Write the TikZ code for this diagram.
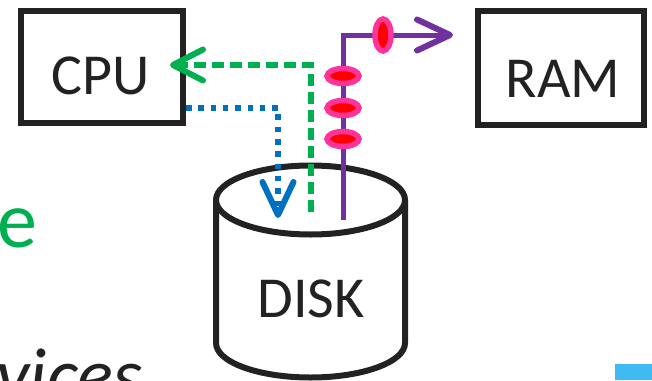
\documentclass[tikz,border=0pt]{standalone}
\usepackage{fontspec}
\setmainfont{Carlito}
\usetikzlibrary{arrows.meta,shapes.geometric}
\definecolor{inkc}{HTML}{222222}
\definecolor{pgreen}{HTML}{00B050}
\definecolor{pblue}{HTML}{0070C0}
\definecolor{ppurple}{HTML}{7030A0}
\definecolor{ppink}{HTML}{FF3399}
\definecolor{pred}{HTML}{FF0000}
\definecolor{plight}{HTML}{3DBBF2}
\tikzset{
  boxnode/.style={draw=inkc,line width=6pt,rectangle,inner sep=0pt},
  lbl/.style={text=inkc,font=\fontsize{58}{60}\selectfont,inner sep=0pt},
  packet/.style={ellipse,draw=ppink,fill=pred,line width=5.5pt,inner sep=0pt},
  hpacket/.style={packet,minimum width=32pt,minimum height=15pt},
  vpacket/.style={packet,minimum width=16pt,minimum height=32pt},
  barb/.style={-{Straight Barb[length=#1,width=31pt,line width=6pt 0,round]}},
}
\begin{document}
\begin{tikzpicture}[x=1pt,y=1pt]
\useasboundingbox (0,0) rectangle (652,-380);
\clip (0,0) rectangle (652,-380);
% slide fragments
\node[anchor=base east,inner sep=0pt,text=pgreen,font=\fontsize{80}{80}\selectfont] (etxt) at (38,-247) {e};
\node[anchor=base east,inner sep=0pt,text=inkc,font=\itshape\fontsize{75}{75}\selectfont] (vtxt) at (143,-400) {vices};
\fill[plight] (615,-364) rectangle (652,-380);
% boxes
\node[boxnode,minimum width=162pt,minimum height=112pt] (cpu) at (102,-67) {};
\node[lbl] (cputxt) at (101,-75.5) {CPU};
\node[boxnode,minimum width=166pt,minimum height=114pt] (ram) at (561,-68) {};
\node[lbl] (ramtxt) at (563,-78.5) {RAM};
% disk
\draw[inkc,line width=6pt] (216,-200) -- (216,-343) arc[start angle=180,end angle=360,x radius=94.5pt,y radius=34.5pt] -- (405,-200);
\draw[inkc,line width=6pt,fill=white] (310.5,-200) ellipse[x radius=94.5pt,y radius=34.5pt];
\node[lbl] (disk) at (311,-298.5) {DISK};
% connector end points
\coordinate (pstart) at (343,-220);
\coordinate (pcorner) at (343,-35);
\coordinate (pend) at (453,-35);
\coordinate (gstart) at (311,-212);
\coordinate (gcorner) at (311,-65);
\coordinate (gend) at (170,-65);
\coordinate (bstart) at (cpu.east |- 0,-108);
\coordinate (bcorner) at (278,-108);
\coordinate (bend) at (278,-218);
% connectors
\draw[ppurple,line width=5pt,barb=33pt] (pstart) -- (pcorner) -- (pend);
\draw[pgreen,line width=5.5pt,dash pattern=on 12pt off 6pt,barb=30pt] (gstart) -- (gcorner) -- (gend);
\draw[pblue,line width=5.5pt,dash pattern=on 5.5pt off 6.8pt,barb=33pt] (bstart) -- (bcorner) -- (bend);
% packets
\node[hpacket] (p1) at (343,-76) {};
\node[hpacket] (p2) at (343,-108) {};
\node[hpacket] (p3) at (343,-139) {};
\node[vpacket] (p4) at (383,-35) {};
\end{tikzpicture}
\end{document}
